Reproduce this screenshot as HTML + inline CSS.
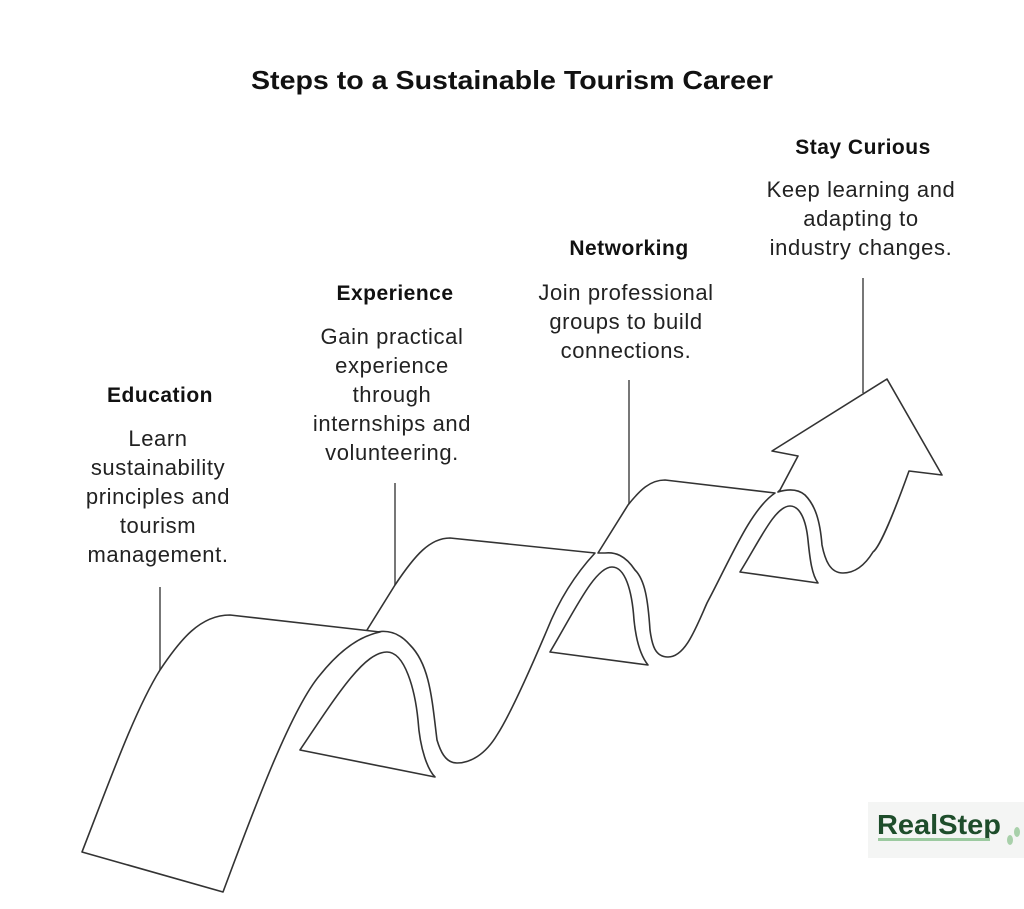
<!DOCTYPE html>
<html><head><meta charset="utf-8"><style>
html,body{margin:0;padding:0;background:#fff;}
svg{display:block;font-family:"Liberation Sans",Arial,sans-serif;}
.h{font-weight:bold;font-size:21px;fill:#111;letter-spacing:0.5px;}
.b{font-size:22px;fill:#222;letter-spacing:0.6px;}
.s{fill:#fff;stroke:#333;stroke-width:1.6;stroke-linejoin:round;}
.l{stroke:#555;stroke-width:1.6;}
</style></head><body>
<svg width="1024" height="909" viewBox="0 0 1024 909">
<text x="512" y="89" text-anchor="middle" font-weight="bold" font-size="26" fill="#111" textLength="522" lengthAdjust="spacingAndGlyphs">Steps to a Sustainable Tourism Career</text>

<text class="h" x="160" y="402" text-anchor="middle">Education</text>
<g class="b" text-anchor="middle">
<text x="158" y="446">Learn</text>
<text x="158" y="475">sustainability</text>
<text x="158" y="504">principles and</text>
<text x="158" y="533">tourism</text>
<text x="158" y="562">management.</text>
</g>
<text class="h" x="395" y="300" text-anchor="middle">Experience</text>
<g class="b" text-anchor="middle">
<text x="392" y="344">Gain practical</text>
<text x="392" y="373">experience</text>
<text x="392" y="402">through</text>
<text x="392" y="431">internships and</text>
<text x="392" y="460">volunteering.</text>
</g>
<text class="h" x="629" y="255" text-anchor="middle">Networking</text>
<g class="b" text-anchor="middle">
<text x="626" y="300">Join professional</text>
<text x="626" y="329">groups to build</text>
<text x="626" y="358">connections.</text>
</g>
<text class="h" x="863" y="154" text-anchor="middle">Stay Curious</text>
<g class="b" text-anchor="middle">
<text x="861" y="197">Keep learning and</text>
<text x="861" y="226">adapting to</text>
<text x="861" y="255">industry changes.</text>
</g>

<line class="l" x1="160" y1="587" x2="160" y2="670"/>
<line class="l" x1="395" y1="483" x2="395" y2="585"/>
<line class="l" x1="629" y1="380" x2="629" y2="505"/>
<line class="l" x1="863" y1="278" x2="863" y2="393"/>

<path class="s" d="M780,490 L798,456 L772,451 L887,379 L942,475 L909,471 C895,510 880,547 873,552 C865,565 855,573 843,573 C830,573 825,560 822,545 C820,520 815,505 805,495 C798,489 788,489 778,492 Z"/>
<path class="s" d="M740,572 L818,583 C812,575 810,560 808,540 C806,520 800,506 790,506 C775,506 760,540 740,572 Z"/>
<path class="s" d="M598,553 L628,505 C640,490 650,480 665,480 L775,493 C750,510 730,560 707,603 C695,630 685,657 668,657 C655,657 652,645 650,630 C648,600 645,580 635,570 C625,555 615,552 605,553 Z"/>
<path class="s" d="M550,652 L648,665 C640,655 636,640 634,620 C632,590 625,567 612,567 C595,567 575,610 550,652 Z"/>
<path class="s" d="M367,630 L395,585 C415,555 430,538 450,538 L595,553 C570,580 555,610 547,630 C530,670 510,715 497,735 C485,755 470,763 457,763 C445,763 440,750 437,740 C432,700 430,665 410,645 C397,630 383,630 373,633 Z"/>
<path class="s" d="M300,750 L435,777 C428,770 420,750 418,720 C415,690 405,652 387,652 C365,652 340,690 300,750 Z"/>
<path class="s" d="M82,852 C110,780 135,710 160,670 C180,640 200,615 230,615 L380,632 C360,636 340,650 320,675 C290,710 250,820 223,892 Z"/>

<rect x="868" y="802" width="156" height="56" fill="#f4f5f4"/>
<text x="877" y="834" font-weight="bold" font-size="28" fill="#1e4d2b" textLength="124" lengthAdjust="spacingAndGlyphs">RealStep</text>
<rect x="878" y="838" width="112" height="3" fill="#9ccaa0"/>
<ellipse cx="1010" cy="840" rx="3" ry="5" fill="#a8d0aa"/>
<ellipse cx="1017" cy="832" rx="3" ry="5" fill="#a8d0aa"/>
</svg>
</body></html>
